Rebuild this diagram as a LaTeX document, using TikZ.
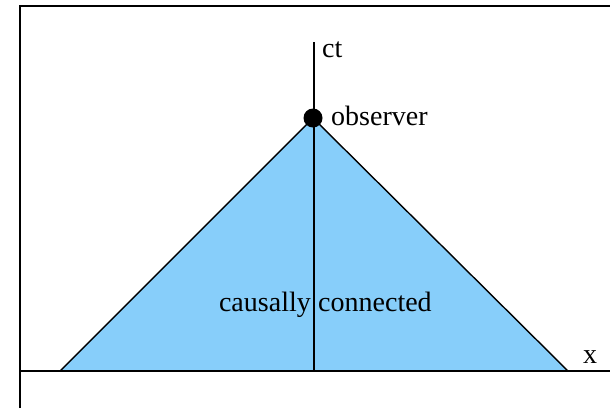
\documentclass[tikz,border=0pt]{standalone}
\usepackage{fontspec}
\setmainfont{Liberation Serif}
\definecolor{cone}{RGB}{135,206,250}
\begin{document}
\begin{tikzpicture}[x=1pt,y=-1pt,
  lbl/.style={anchor=base west,inner sep=0pt,font=\fontsize{28}{32}\selectfont},
  axis/.style={line width=1.4pt,black}]
\useasboundingbox (0,0) rectangle (610,408);
% frame
\draw[line width=2pt] (20,408) -- (20,6) -- (611,6);
% coordinates
\coordinate (L) at (60,371);
\coordinate (R) at (568,371);
\coordinate (O) at (313,118);
\coordinate (B) at (314,371);
\coordinate (T) at (314,42);
\coordinate (XL) at (20,371);
\coordinate (XR) at (611,371);
% cone
\fill[cone] (L) -- (O) -- (R) -- cycle;
\draw[axis] (L) -- (O) -- (R);
% axes
\draw[axis] (XL) -- (XR);
\draw[axis] (B) -- (T);
% observer
\node[circle,fill=black,minimum size=19pt,inner sep=0pt] (obs) at (O) {};
\node[lbl] (ct) at (322,57) {ct};
\node[lbl] (obstext) at (331,125) {observer};
\node[lbl] (x) at (583,363) {x};
\node[lbl,anchor=base east] (caus) at (311,311) {causally};
\node[lbl] (conn) at (318,311) {connected};
\end{tikzpicture}
\end{document}
